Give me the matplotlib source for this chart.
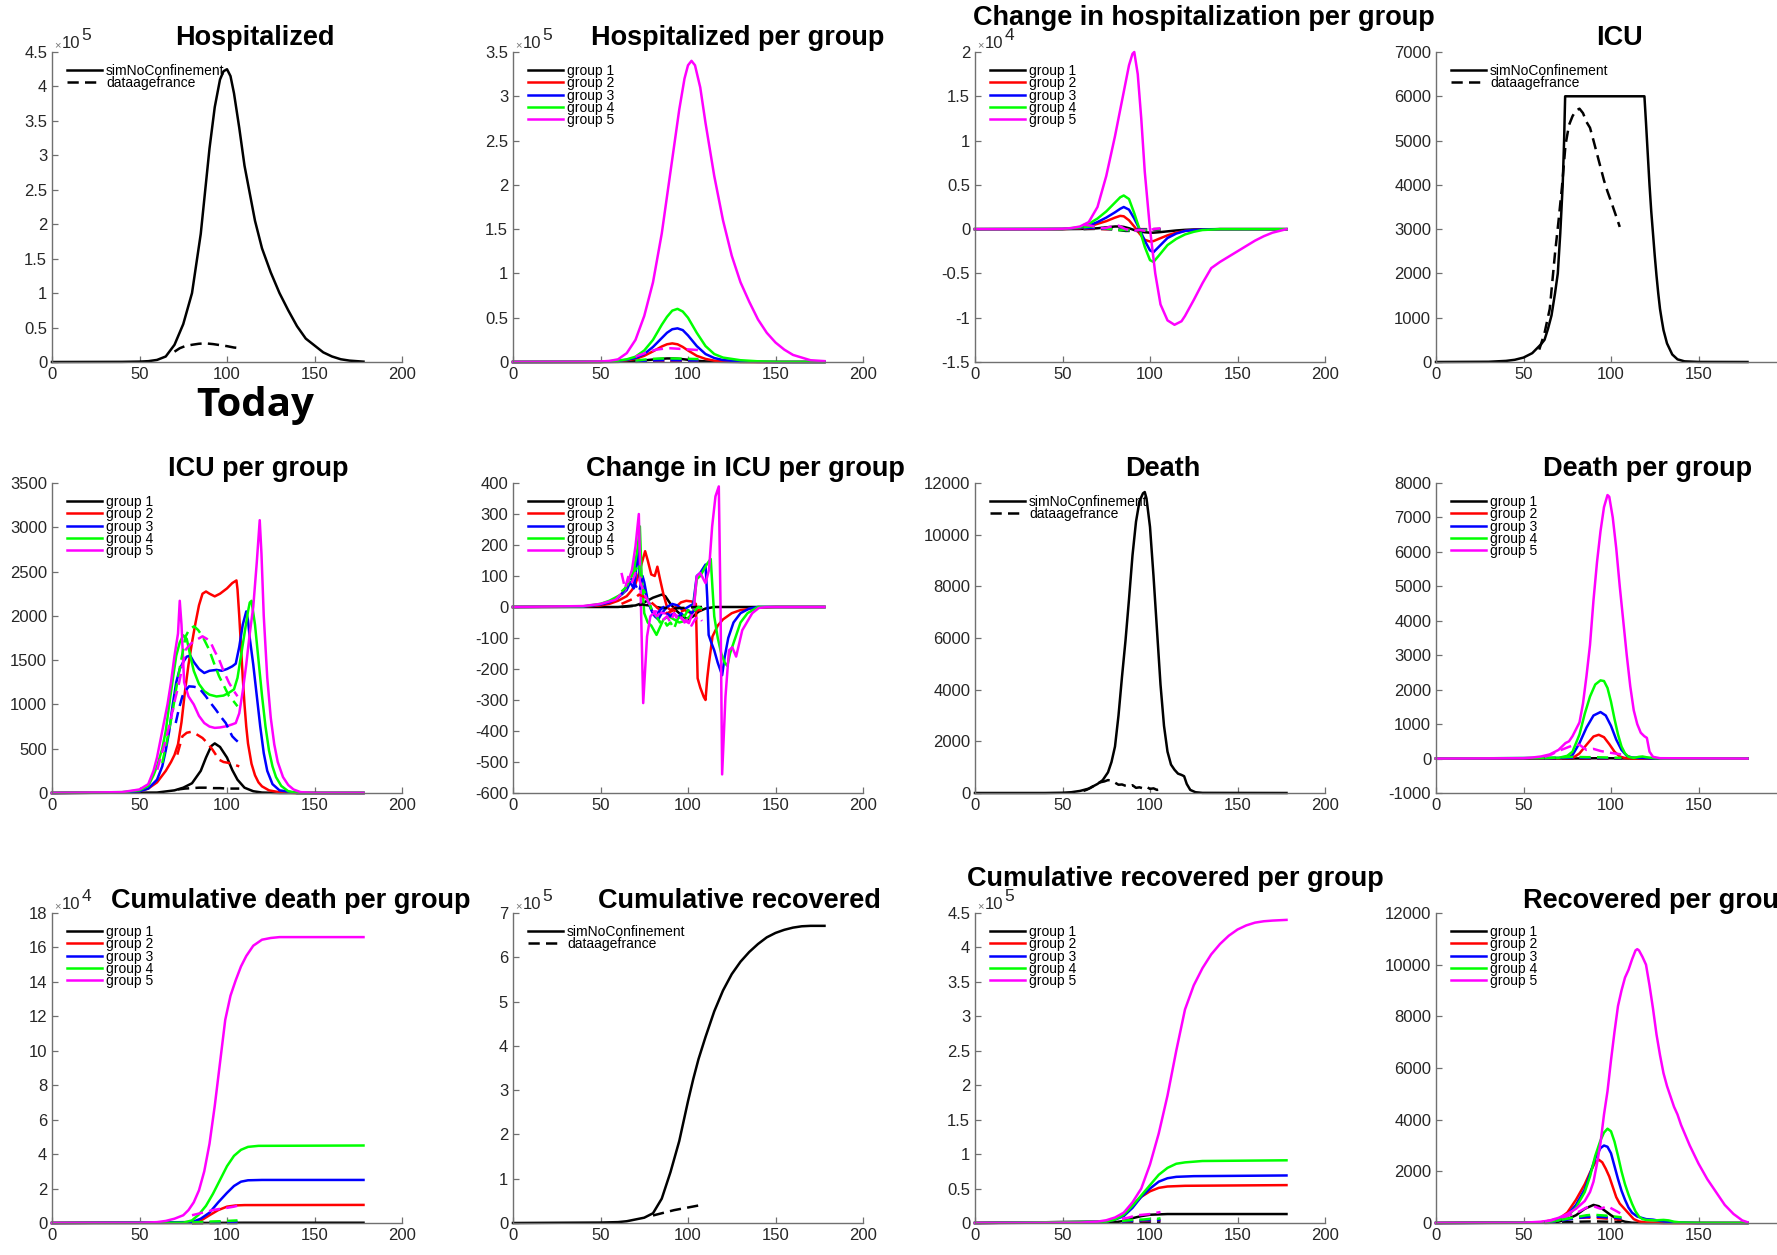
import matplotlib
matplotlib.use('Agg')
import matplotlib.pyplot as plt
from matplotlib.ticker import FixedLocator, FuncFormatter

plt.rcParams['font.family'] = ['Liberation Sans', 'DejaVu Sans']

# ---------------- data ----------------
# 1. Hospitalized (x1e5)
hosp_sim_day = [0, 40, 50, 55, 60, 65, 70, 75, 80, 85, 90, 93, 96, 98, 100, 102, 104, 107, 110, 113, 116, 120, 125, 130, 135, 140, 145, 150, 155, 160, 165, 170, 178]
hosp_sim = [0, 0.002, 0.006, 0.012, 0.03, 0.08, 0.25, 0.55, 1.0, 1.86, 3.1, 3.7, 4.1, 4.22, 4.25, 4.15, 3.9, 3.4, 2.85, 2.45, 2.05, 1.65, 1.3, 1.0, 0.75, 0.52, 0.34, 0.24, 0.14, 0.08, 0.04, 0.02, 0.005]
hosp_data_day = [70, 73, 76, 80, 84, 88, 92, 96, 100, 104, 108]
hosp_data = [0.15, 0.2, 0.23, 0.25, 0.265, 0.27, 0.26, 0.245, 0.23, 0.21, 0.2]

# 2. Hospitalized per group (x1e5)
hpg5_day = [0, 40, 50, 55, 60, 65, 70, 75, 80, 85, 90, 95, 98, 100, 102, 104, 107, 110, 115, 120, 125, 130, 135, 140, 145, 150, 155, 160, 165, 170, 178]
hpg5 = [0, 0.002, 0.006, 0.012, 0.03, 0.1, 0.25, 0.52, 0.9, 1.45, 2.15, 2.85, 3.2, 3.35, 3.4, 3.35, 3.1, 2.7, 2.1, 1.6, 1.2, 0.9, 0.68, 0.48, 0.33, 0.22, 0.14, 0.08, 0.05, 0.02, 0.01]
hpg_day = [0, 50, 60, 65, 70, 75, 80, 85, 88, 91, 94, 97, 100, 105, 110, 115, 120, 130, 140, 150, 178]
hpg1 = [0, 0, 0.002, 0.005, 0.01, 0.018, 0.028, 0.036, 0.04, 0.04, 0.037, 0.032, 0.025, 0.014, 0.007, 0.003, 0.002, 0, 0, 0, 0]
hpg2 = [0, 0.001, 0.01, 0.02, 0.035, 0.07, 0.12, 0.175, 0.2, 0.21, 0.2, 0.17, 0.13, 0.07, 0.035, 0.015, 0.008, 0.002, 0, 0, 0]
hpg3 = [0, 0.002, 0.012, 0.025, 0.045, 0.09, 0.17, 0.27, 0.33, 0.37, 0.38, 0.36, 0.3, 0.18, 0.09, 0.045, 0.022, 0.006, 0.002, 0, 0]
hpg4 = [0, 0.003, 0.015, 0.03, 0.06, 0.13, 0.25, 0.42, 0.51, 0.58, 0.6, 0.57, 0.5, 0.33, 0.18, 0.09, 0.05, 0.02, 0.008, 0.002, 0]
hpgd_day = [70, 74, 78, 82, 86, 90, 94, 98, 102, 106]
hpgd1 = [0.002, 0.003, 0.004, 0.005, 0.005, 0.005, 0.005, 0.004, 0.004, 0.004]
hpgd2 = [0.005, 0.008, 0.01, 0.012, 0.013, 0.013, 0.012, 0.012, 0.011, 0.01]
hpgd3 = [0.008, 0.012, 0.016, 0.018, 0.02, 0.02, 0.019, 0.018, 0.017, 0.016]
hpgd4 = [0.015, 0.025, 0.033, 0.038, 0.04, 0.04, 0.039, 0.037, 0.035, 0.033]
hpgd5 = [0.06, 0.09, 0.12, 0.14, 0.15, 0.155, 0.15, 0.145, 0.14, 0.135]

# 3. Change in hospitalization per group (x1e4)
ch5_day = [0, 40, 50, 55, 60, 65, 70, 75, 80, 85, 88, 90, 91, 93, 95, 97, 100, 103, 106, 110, 114, 118, 120, 125, 130, 135, 140, 145, 150, 155, 160, 165, 170, 178]
ch5 = [0, 0, 0.005, 0.012, 0.03, 0.08, 0.25, 0.6, 1.05, 1.55, 1.85, 1.98, 2.0, 1.75, 1.25, 0.65, 0.0, -0.5, -0.85, -1.03, -1.08, -1.04, -0.98, -0.8, -0.61, -0.44, -0.37, -0.31, -0.25, -0.19, -0.13, -0.08, -0.04, 0]
ch_day = [0, 50, 60, 65, 70, 75, 80, 83, 85, 88, 91, 94, 97, 100, 102, 105, 110, 115, 120, 125, 130, 140, 178]
ch1 = [0, 0, 0.002, 0.005, 0.01, 0.02, 0.03, 0.03, 0.025, 0.01, -0.01, -0.025, -0.035, -0.04, -0.04, -0.035, -0.025, -0.015, -0.008, -0.004, -0.002, 0, 0]
ch2 = [0, 0.001, 0.01, 0.03, 0.06, 0.09, 0.13, 0.15, 0.145, 0.1, 0.03, -0.05, -0.12, -0.14, -0.135, -0.11, -0.07, -0.04, -0.02, -0.01, -0.005, 0, 0]
ch3 = [0, 0.002, 0.015, 0.04, 0.08, 0.13, 0.19, 0.23, 0.25, 0.22, 0.12, 0.0, -0.13, -0.24, -0.26, -0.2, -0.1, -0.05, -0.02, -0.01, -0.004, 0, 0]
ch4 = [0, 0.003, 0.02, 0.06, 0.12, 0.2, 0.3, 0.36, 0.38, 0.34, 0.18, 0.0, -0.2, -0.35, -0.37, -0.3, -0.18, -0.11, -0.06, -0.03, -0.01, 0, 0]
chd_day = [62, 66, 70, 74, 78, 82, 86, 90, 94, 98, 102, 106]
chd1 = [0, 0.002, 0.003, 0.002, 0.0, -0.01, -0.02, -0.02, -0.02, -0.015, -0.01, -0.005]
chd2 = [0.005, 0.01, 0.005, 0.0, 0.0, -0.005, -0.005, -0.005, 0, 0, 0, 0]
chd3 = [0.01, 0.015, 0.01, 0.005, 0.0, -0.005, -0.01, -0.01, -0.005, -0.005, 0, 0]
chd4 = [0.02, 0.03, 0.02, 0.01, 0.0, -0.01, -0.01, -0.015, -0.01, -0.01, 0, 0]
chd5 = [0.05, 0.04, 0.02, 0.01, 0.03, 0.04, 0.0, -0.02, -0.01, -0.02, 0.0, 0.01]

# 4. ICU
icu_sim_day = [0, 30, 40, 45, 50, 55, 58, 60, 62, 64, 66, 68, 69.6, 71, 72.4, 73.2, 73.8, 119.1, 120, 121, 122, 123, 124, 125, 126, 127, 128, 129, 130, 132, 135, 138, 142, 150, 178]
icu_sim = [0, 5, 25, 50, 100, 200, 320, 400, 500, 750, 1050, 1550, 2000, 2900, 4000, 5000, 6000, 6000, 5400, 4700, 4000, 3400, 2900, 2400, 1950, 1550, 1200, 950, 720, 420, 170, 60, 15, 2, 0]
icu_data_day = [59, 62, 65, 68, 70, 72, 74, 76, 78, 80, 82, 84, 86, 88, 90, 92, 94, 96, 98, 100, 102, 104, 105]
icu_data = [280, 650, 1200, 2450, 3180, 3960, 4900, 5350, 5550, 5680, 5720, 5620, 5420, 5290, 5000, 4700, 4400, 4100, 3850, 3630, 3400, 3170, 3050]

# 5. ICU per group
icu1_day = [0, 60, 70, 75, 80, 85, 88, 91, 93, 96, 100, 103, 106, 110, 115, 120, 130, 178]
icu1 = [0, 5, 30, 60, 110, 250, 400, 530, 560, 520, 400, 260, 150, 60, 20, 5, 0, 0]
icu2_day = [0, 40, 50, 55, 60, 65, 68, 70, 72, 74, 76, 78, 80, 82, 84, 86, 88, 90, 93, 96, 100, 103, 105.4, 106, 107, 108, 109, 110, 111, 112, 114, 116, 118, 120, 124, 130, 140, 178]
icu2 = [0, 5, 20, 50, 120, 250, 350, 430, 550, 800, 1150, 1450, 1700, 1920, 2120, 2250, 2275, 2250, 2220, 2250, 2310, 2370, 2400, 2300, 2000, 1650, 1300, 1000, 750, 560, 330, 200, 120, 75, 30, 8, 0, 0]
icu3_day = [0, 40, 50, 55, 60, 63, 65, 67, 69, 71, 73, 75, 77, 79, 81, 84, 87, 90, 94, 97, 100, 103, 105, 107, 109, 111, 112, 113, 115, 117, 119, 121, 123, 126, 130, 140, 178]
icu3 = [0, 5, 20, 50, 150, 300, 480, 700, 1000, 1250, 1400, 1480, 1540, 1550, 1480, 1400, 1355, 1380, 1390, 1380, 1400, 1430, 1460, 1650, 1900, 2050, 1950, 1750, 1450, 1100, 750, 450, 250, 100, 30, 0, 0]
icu4_day = [0, 40, 50, 55, 58, 60, 63, 65, 67, 69, 71, 73, 75, 77, 79, 81, 84, 87, 90, 94, 98, 101, 104, 106, 108, 110, 112, 113, 114, 116, 118, 120, 122, 124, 126, 128, 131, 135, 140, 178]
icu4 = [0, 10, 30, 80, 200, 300, 500, 700, 1000, 1280, 1550, 1700, 1780, 1740, 1550, 1380, 1230, 1150, 1110, 1090, 1100, 1130, 1170, 1300, 1550, 1800, 2050, 2150, 2170, 1900, 1500, 1100, 750, 480, 300, 180, 80, 20, 0, 0]
icu5_day = [0, 40, 50, 55, 58, 60, 62, 64, 66, 68, 70, 72, 73, 74, 75.5, 78, 81, 84, 87, 90, 93, 96, 100, 103, 105, 107, 109, 111, 113, 115, 117, 118.7, 119.7, 121, 123, 125, 127, 129, 132, 135, 138, 142, 150, 178]
icu5 = [0, 10, 40, 100, 250, 400, 600, 800, 1000, 1250, 1550, 1800, 2170, 1900, 1250, 1090, 1000, 870, 790, 750, 735, 740, 755, 775, 790, 900, 1150, 1450, 1800, 2100, 2600, 3080, 2700, 2000, 1300, 850, 550, 350, 180, 90, 40, 10, 0, 0]
icud1_day = [72, 76, 80, 84, 88, 92, 96, 100, 104, 107]
icud1 = [40, 50, 55, 60, 60, 55, 55, 50, 50, 50]
icud2_day = [71.6, 74.5, 77, 79.3, 82, 86, 89, 91.7, 95.5, 98, 101.2, 104, 107]
icud2 = [433, 640, 680, 690, 670, 621, 560, 490, 376, 350, 339, 320, 301]
icud3_day = [70.7, 72.5, 74.5, 76.5, 78.3, 81, 84, 87.9, 90.5, 93.6, 96.5, 99.3, 101, 103, 105, 107]
icud3 = [790, 950, 1092, 1160, 1204, 1200, 1186, 1092, 1020, 941, 860, 790, 720, 640, 600, 565]
icud4_day = [63, 66, 68.8, 71, 73.5, 76.4, 78.5, 81.2, 83.5, 86, 89.8, 92.5, 95.5, 98.5, 101.2, 104, 106]
icud4 = [339, 620, 903, 1180, 1468, 1769, 1850, 1882, 1840, 1769, 1618, 1470, 1317, 1200, 1092, 1030, 979]
icud5_day = [60.2, 62, 64, 66, 67.8, 70, 72.6, 74.5, 76.4, 79, 81.2, 83.5, 86, 88.5, 90.8, 93, 95.5, 98, 101.2, 104, 106]
icud5 = [263, 400, 527, 680, 828, 1030, 1242, 1430, 1618, 1680, 1713, 1740, 1769, 1740, 1694, 1600, 1506, 1380, 1242, 1150, 1092]

# 6. Change in ICU per group
cicu1_day = [0, 60, 70, 75, 80, 85, 87, 90, 93, 97, 100, 103, 106, 110, 115, 178]
cicu1 = [0, 0, 5, 15, 30, 40, 35, 10, -10, -30, -40, -30, -15, -5, 0, 0]
cicu2_day = [0, 40, 50, 55, 60, 65, 68, 70, 72, 74, 75.5, 77, 79, 81, 82.5, 84, 86, 88, 90, 93, 96, 99, 102, 104.5, 105.5, 107, 109, 110, 111, 112, 114, 117, 120, 125, 130, 140, 150, 178]
cicu2 = [0, 1, 5, 10, 20, 35, 55, 75, 110, 150, 180, 150, 105, 100, 130, 90, 40, 0, -10, 0, 15, 20, 18, 10, -230, -260, -290, -300, -230, -180, -95, -60, -40, -20, -10, -2, 0, 0]
cicu3_day = [0, 40, 50, 55, 60, 63, 65, 67, 69, 70, 71.5, 72.5, 74, 75, 77, 79, 81, 83, 85, 88, 91, 94, 97, 100, 103, 105, 107, 110, 111, 111.8, 113, 115, 117, 119.5, 121, 123, 126, 130, 135, 140, 178]
cicu3 = [0, 1, 8, 15, 30, 45, 55, 80, 60, 100, 190, 90, 100, 80, 20, -10, -30, -40, -20, 0, 10, 5, -10, 0, 10, 100, 110, 137, 30, -90, -110, -140, -180, -220, -160, -100, -50, -20, -5, 0, 0]
cicu4_day = [0, 40, 50, 55, 60, 63, 66, 69, 71, 72.5, 73.5, 75, 77, 79, 82, 84, 86, 89, 92, 95, 98, 101, 103, 105, 107, 109, 111, 113, 114, 115, 117, 119, 121, 122.5, 124, 127, 130, 134, 140, 178]
cicu4 = [0, 2, 10, 20, 35, 45, 80, 120, 180, 260, 100, -20, -50, -60, -90, -65, -40, -30, -40, -50, -45, -30, -10, 90, 100, 120, 140, 155, 60, -30, -100, -150, -180, -190, -150, -100, -50, -20, 0, 0]
cicu5_day = [0, 40, 50, 58.5, 64.3, 68, 70, 71.9, 74.4, 76.6, 78.5, 81.4, 86, 92.8, 97, 100.5, 103.3, 105, 107, 110, 112, 113.8, 115.7, 117.6, 118.6, 119.5, 121.4, 123.4, 125.3, 127.5, 131, 136.7, 140.5, 145, 178]
cicu5 = [0, 3, 10, 23, 56, 120, 196, 300, -310, -95, -30, -14, -20, -25, -40, -52, -9, 99, 110, 77, 120, 260, 357, 389, 0, -540, -290, -140, -130, -160, -75, -20, -3, 0, 0]
cicud_day = [62, 64, 66, 68, 70, 72, 74, 76, 78, 80, 82, 84, 86, 88, 90, 92, 94, 96, 98, 100, 102, 104, 106, 108]
cicud1 = [0, 1, 2, 3, 5, 6, 8, 6, 5, 3, 0, -2, -3, -3, -5, -5, -4, -3, -3, -2, -1, 0, 0, 0]
cicud2 = [10, 15, 20, 25, 30, 40, 35, 30, 20, 10, 0, -10, -15, -20, -15, -10, -20, -15, -10, -15, -20, -15, -10, -10]
cicud3 = [40, 60, 70, 90, 70, 50, 90, 40, 10, -20, -30, -10, 0, -20, -30, -20, -40, -20, -30, -10, -20, -10, 0, -5]
cicud4 = [50, 60, 80, 100, 120, 140, 60, 40, 10, -20, -30, -50, -40, -60, -50, -70, -40, -20, -30, -10, -20, -10, 0, -5]
cicud5 = [110, 60, 100, 80, 110, 90, 60, 30, 10, -10, -30, -20, -40, -30, -50, -20, -40, -30, -50, -40, -60, -40, -30, -45]

# 7. Death
death_sim_day = [0, 40, 50, 55, 60, 65, 70, 73, 76, 78, 80, 82, 84, 86, 88, 90, 92, 94, 96, 97, 98, 100, 102, 104, 106, 108, 110, 112, 114, 116, 118, 119.5, 121, 123, 126, 130, 178]
death_sim = [0, 0, 10, 30, 80, 170, 350, 500, 800, 1200, 1800, 3000, 4500, 5900, 7500, 9200, 10500, 11300, 11600, 11650, 11400, 10300, 8400, 6300, 4200, 2600, 1600, 1100, 900, 750, 700, 650, 350, 120, 30, 5, 0]
death_data_day = [62, 64, 66, 68, 70, 72, 74, 76, 78, 80, 82, 84, 86, 88, 90, 92, 94, 96, 98, 100, 102, 104, 106, 108]
death_data = [80, 130, 200, 280, 380, 420, 450, 500, 480, 400, 320, 330, 280, 250, 300, 200, 220, 180, 240, 160, 180, 120, 140, 100]

# 8. Death per group
dpg1_day = [0, 80, 90, 95, 100, 110, 178]
dpg1 = [0, 2, 8, 10, 8, 2, 0]
dpg2_day = [0, 78, 82, 86, 90, 93, 96, 99, 102, 105, 108, 112, 178]
dpg2 = [0, 10, 150, 400, 640, 690, 620, 420, 200, 60, 15, 0, 0]
dpg3_day = [0, 75, 78, 82, 86, 90, 94, 97, 100, 103, 106, 109, 112, 116, 118, 122, 130, 178]
dpg3 = [0, 20, 100, 450, 900, 1250, 1350, 1250, 950, 550, 250, 80, 30, 20, 20, 5, 0, 0]
dpg4_day = [0, 70, 75, 78, 82, 85, 88, 91, 94, 96, 98, 100, 102, 104, 106, 108, 110, 113, 116, 118, 120, 125, 130, 178]
dpg4 = [0, 20, 80, 200, 700, 1300, 1800, 2150, 2270, 2250, 2050, 1650, 1150, 700, 350, 150, 50, 20, 50, 60, 40, 10, 0, 0]
dpg5_day = [0, 50, 55, 60, 65, 70, 74, 76, 78, 80, 82, 84, 86, 88, 90, 92, 94, 96, 98, 99, 101, 103, 105, 107, 109, 111, 113, 115, 117, 119, 120.5, 122, 124, 128, 178]
dpg5 = [0, 10, 30, 60, 120, 250, 450, 500, 650, 850, 1050, 1600, 2400, 3300, 4600, 5700, 6600, 7300, 7650, 7600, 7000, 6100, 5000, 4000, 3000, 2100, 1400, 1000, 750, 650, 600, 200, 50, 10, 0]
dpgd_day = [62, 66, 70, 74, 78, 82, 86, 90, 94, 98, 102, 106]
dpgd1 = [0, 0, 0, 1, 1, 1, 1, 1, 1, 1, 0, 0]
dpgd2 = [2, 4, 6, 8, 8, 8, 7, 6, 5, 5, 4, 3]
dpgd3 = [5, 10, 15, 20, 20, 20, 18, 15, 15, 12, 10, 8]
dpgd4 = [10, 20, 30, 40, 50, 45, 40, 40, 35, 30, 25, 20]
dpgd5 = [50, 120, 220, 300, 380, 400, 250, 280, 220, 180, 150, 120]

# 9. Cumulative death per group (x1e4)
cd1_day = [0, 85, 100, 110, 178]
cd1 = [0, 0.002, 0.01, 0.015, 0.015]
cd2_day = [0, 82, 86, 90, 95, 100, 105, 110, 178]
cd2 = [0, 0.05, 0.2, 0.45, 0.75, 0.95, 1.02, 1.04, 1.05]
cd3_day = [0, 80, 85, 90, 95, 100, 104, 108, 112, 120, 178]
cd3 = [0, 0.05, 0.25, 0.6, 1.2, 1.75, 2.15, 2.4, 2.48, 2.5, 2.5]
cd4_day = [0, 75, 80, 84, 88, 92, 96, 100, 104, 108, 112, 118, 178]
cd4 = [0, 0.02, 0.15, 0.5, 1.0, 1.7, 2.5, 3.3, 3.9, 4.25, 4.42, 4.48, 4.5]
cd5_day = [0, 50, 60, 65, 70, 75, 78, 81, 84, 87, 90, 93, 96, 99, 102, 105, 108, 111, 115, 120, 125, 130, 178]
cd5 = [0, 0.01, 0.05, 0.12, 0.25, 0.45, 0.75, 1.2, 1.9, 3.0, 4.6, 6.8, 9.3, 11.8, 13.2, 14.1, 14.9, 15.5, 16.1, 16.45, 16.55, 16.6, 16.6]
cdd_day = [80, 84, 88, 92, 96, 100, 104, 106]
cdd1 = [0, 0, 0, 0.001, 0.001, 0.001, 0.001, 0.001]
cdd2 = [0.005, 0.01, 0.012, 0.015, 0.018, 0.02, 0.022, 0.025]
cdd3 = [0.01, 0.02, 0.03, 0.04, 0.05, 0.06, 0.07, 0.075]
cdd4 = [0.03, 0.05, 0.07, 0.09, 0.1, 0.12, 0.14, 0.15]
cdd5 = [0.45, 0.55, 0.65, 0.75, 0.82, 0.88, 0.95, 1.0]

# 10. Cumulative recovered (x1e5)
crec_day = [0, 50, 60, 65, 70, 75, 80, 85, 90, 95, 100, 103, 106, 110, 115, 120, 125, 130, 135, 140, 145, 150, 155, 160, 165, 170, 178]
crec = [0, 0.01, 0.02, 0.04, 0.08, 0.12, 0.22, 0.55, 1.15, 1.85, 2.75, 3.25, 3.7, 4.2, 4.78, 5.25, 5.62, 5.9, 6.12, 6.3, 6.45, 6.55, 6.62, 6.67, 6.7, 6.71, 6.71]
crec_data_day = [80, 84, 88, 92, 96, 100, 104, 108]
crec_data = [0.17, 0.21, 0.25, 0.29, 0.32, 0.35, 0.38, 0.41]

# 11. Cumulative recovered per group (x1e5)
crp1_day = [0, 80, 85, 90, 95, 100, 110, 178]
crp1 = [0, 0.01, 0.03, 0.07, 0.1, 0.12, 0.13, 0.13]
crp2_day = [0, 75, 80, 85, 90, 95, 100, 105, 110, 120, 178]
crp2 = [0, 0.02, 0.05, 0.12, 0.26, 0.38, 0.46, 0.51, 0.53, 0.54, 0.55]
crp3_day = [0, 75, 80, 85, 90, 95, 100, 105, 110, 115, 125, 178]
crp3 = [0, 0.02, 0.05, 0.1, 0.22, 0.38, 0.5, 0.6, 0.65, 0.67, 0.68, 0.69]
crp4_day = [0, 75, 80, 85, 90, 95, 100, 105, 110, 115, 120, 130, 178]
crp4 = [0, 0.02, 0.05, 0.12, 0.25, 0.4, 0.55, 0.7, 0.8, 0.86, 0.88, 0.9, 0.91]
crp5_day = [0, 60, 70, 75, 80, 85, 90, 95, 100, 105, 110, 115, 120, 125, 130, 135, 140, 145, 150, 155, 160, 165, 170, 178]
crp5 = [0, 0.005, 0.02, 0.04, 0.08, 0.15, 0.3, 0.5, 0.85, 1.3, 1.85, 2.5, 3.1, 3.45, 3.7, 3.9, 4.05, 4.17, 4.26, 4.32, 4.36, 4.38, 4.39, 4.4]
crpd_day = [84, 88, 92, 96, 100, 104, 106]
crpd1 = [0.003, 0.005, 0.006, 0.008, 0.009, 0.01, 0.01]
crpd2 = [0.02, 0.025, 0.03, 0.03, 0.035, 0.04, 0.04]
crpd3 = [0.02, 0.03, 0.03, 0.04, 0.04, 0.04, 0.045]
crpd4 = [0.03, 0.04, 0.05, 0.05, 0.06, 0.06, 0.07]
crpd5 = [0.06, 0.08, 0.11, 0.12, 0.13, 0.15, 0.16]

# 12. Recovered per group
rp1_day = [0, 60, 70, 75, 80, 85, 90, 93, 96, 100, 104, 108, 112, 120, 178]
rp1 = [0, 10, 50, 150, 300, 550, 700, 650, 500, 300, 130, 50, 10, 0, 0]
rp2_day = [0, 60, 70, 75, 80, 85, 88, 91, 93, 95, 97, 99, 101, 103, 105, 107, 109, 111, 113, 116, 120, 130, 178]
rp2 = [0, 30, 150, 400, 900, 1500, 1950, 2350, 2450, 2350, 2100, 1800, 1400, 1000, 750, 600, 450, 300, 150, 60, 20, 0, 0]
rp3_day = [0, 60, 70, 75, 80, 85, 88, 91, 94, 96, 98, 100, 102, 104, 106, 108, 110, 112, 115, 120, 124, 128, 135, 150, 178]
rp3 = [0, 20, 100, 300, 700, 1300, 1900, 2500, 2900, 3000, 2950, 2700, 2200, 1700, 1250, 900, 600, 400, 250, 150, 130, 80, 20, 0, 0]
rp4_day = [0, 60, 70, 75, 80, 85, 88, 91, 94, 96, 98, 100, 102, 104, 106, 108, 110, 112, 114, 116, 118, 120, 125, 130, 133, 136, 140, 150, 178]
rp4 = [0, 20, 100, 250, 600, 1200, 1800, 2600, 3200, 3500, 3650, 3550, 3150, 2600, 2000, 1500, 1100, 750, 450, 250, 150, 120, 100, 120, 100, 50, 20, 5, 0]
rp5_day = [0, 50, 60, 65, 70, 75, 80, 85, 88, 90, 92, 94, 96, 98, 100, 102, 104, 106, 108, 110, 112, 114, 115, 116, 118, 120, 122, 124, 126, 128, 130, 132, 134, 136, 138, 140, 145, 150, 155, 160, 165, 170, 175, 178]
rp5 = [0, 10, 50, 100, 200, 350, 550, 850, 1200, 1600, 2300, 3100, 4200, 5100, 6300, 7400, 8400, 9000, 9500, 9800, 10200, 10550, 10600, 10550, 10300, 10000, 9200, 8300, 7300, 6500, 5800, 5300, 4900, 4500, 4200, 3800, 3000, 2300, 1700, 1200, 700, 350, 100, 30]
rpd_day = [62, 66, 70, 74, 78, 82, 86, 90, 94, 98, 102, 106]
rpd1 = [5, 10, 20, 30, 40, 50, 55, 60, 55, 50, 45, 40]
rpd2 = [20, 50, 90, 130, 170, 200, 210, 200, 190, 170, 150, 130]
rpd3 = [20, 40, 80, 120, 160, 200, 230, 250, 240, 220, 200, 180]
rpd4 = [30, 60, 100, 150, 200, 250, 300, 320, 300, 280, 250, 220]
rpd5 = [50, 100, 200, 250, 350, 450, 600, 650, 550, 650, 500, 350]

GROUP_LABELS = ['group 1', 'group 2', 'group 3', 'group 4', 'group 5']
SIM_LABELS = ['simNoConfinement', 'dataagefrance']
X_TICKS = [0, 50, 100, 150, 200]

# ---------------- styling ----------------
COLORS = ['#000000', '#ff0000', '#0000ff', '#00ff00', '#ff00ff']
LW = 1.8
DASH = (0, (4.5, 2.5))
SPINE = '#707070'
TXT = '#262626'

W, H = 1777, 1255
fig = plt.figure(figsize=(W / 100, H / 100), dpi=100)
fig.patch.set_facecolor('white')

COLS = [52, 513, 975, 1436]
ROWS = [52, 483, 913]
AW, AH = 350, 310


def make_ax(r, c):
    left = COLS[c]
    top = ROWS[r]
    return fig.add_axes([left / W, 1 - (top + AH) / H, AW / W, AH / H])


def setup(ax, ylo, yhi, ystep, exp=None, edge=False):
    ax.set_xlim(0, 200)
    ax.set_ylim(ylo, yhi)
    ax.xaxis.set_major_locator(FixedLocator(X_TICKS))
    n = int(round((yhi - ylo) / ystep))
    ax.yaxis.set_major_locator(FixedLocator([round(ylo + i * ystep, 6) for i in range(n + 1)]))
    ax.yaxis.set_major_formatter(FuncFormatter(lambda v, p: f'{round(v, 6):g}'))
    if edge:
        # rightmost column runs past the figure edge: the 200 label is not visible
        ax.xaxis.set_major_formatter(FuncFormatter(lambda v, p: '' if v >= 200 else f'{v:g}'))
    else:
        ax.xaxis.set_major_formatter(FuncFormatter(lambda v, p: f'{v:g}'))
    for s in ['top', 'right']:
        ax.spines[s].set_visible(False)
    for s in ['left', 'bottom']:
        ax.spines[s].set_color(SPINE)
        ax.spines[s].set_linewidth(1.0)
    ax.tick_params(direction='in', length=4, width=0.9, color=SPINE,
                   labelsize=12, labelcolor=TXT, pad=3.5)
    ax.set_facecolor('none')
    if exp is not None:
        ax.annotate('×', xy=(0, 1), xycoords='axes fraction', xytext=(1.5, 3.0),
                    textcoords='offset points', fontsize=8, color='#777777',
                    ha='left', va='baseline', annotation_clip=False)
        ax.annotate('10', xy=(0, 1), xycoords='axes fraction', xytext=(7.0, 2.8),
                    textcoords='offset points', fontsize=12, color=TXT,
                    ha='left', va='baseline', annotation_clip=False)
        ax.annotate(str(exp), xy=(0, 1), xycoords='axes fraction', xytext=(21.3, 8.3),
                    textcoords='offset points', fontsize=12.5, color=TXT,
                    ha='left', va='baseline', annotation_clip=False)


def add_legend(ax, handles, labels):
    ax.legend(handles, labels, loc='upper left', bbox_to_anchor=(15 / AW, 1 - 12 / AH),
              frameon=False, fontsize=10, handlelength=2.5, handletextpad=0.3,
              labelspacing=-0.12, borderpad=0, borderaxespad=0)


def sim_plot(ax, sx, sy, dx, dy):
    h1, = ax.plot(sx, sy, color='k', lw=LW, clip_on=False)
    h2, = ax.plot(dx, dy, color='k', lw=LW, ls=DASH, clip_on=False)
    add_legend(ax, [h1, h2], SIM_LABELS)


def group_plot(ax, solids, dashes):
    hs = []
    for i, (x, y) in enumerate(solids):
        h, = ax.plot(x, y, color=COLORS[i], lw=LW, clip_on=False)
        hs.append(h)
    for i, (x, y) in enumerate(dashes):
        ax.plot(x, y, color=COLORS[i], lw=LW, ls=DASH, clip_on=False)
    add_legend(ax, hs, GROUP_LABELS)


def title_at(text, cx, baseline, ha='center'):
    fig.text(cx / W, 1 - baseline / H, text, fontsize=19.5, fontweight='bold',
             ha=ha, va='baseline', color='black')


# Row 1
ax = make_ax(0, 0)
setup(ax, 0, 4.5, 0.5, exp=5)
sim_plot(ax, hosp_sim_day, hosp_sim, hosp_data_day, hosp_data)
title_at('Hospitalized', 255, 45)

ax = make_ax(0, 1)
setup(ax, 0, 3.5, 0.5, exp=5)
group_plot(ax, [(hpg_day, hpg1), (hpg_day, hpg2), (hpg_day, hpg3), (hpg_day, hpg4), (hpg5_day, hpg5)],
           [(hpgd_day, hpgd1), (hpgd_day, hpgd2), (hpgd_day, hpgd3), (hpgd_day, hpgd4), (hpgd_day, hpgd5)])
title_at('Hospitalized per group', 738, 45)

ax = make_ax(0, 2)
setup(ax, -1.5, 2, 0.5, exp=4)
group_plot(ax, [(ch_day, ch1), (ch_day, ch2), (ch_day, ch3), (ch_day, ch4), (ch5_day, ch5)],
           [(chd_day, chd1), (chd_day, chd2), (chd_day, chd3), (chd_day, chd4), (chd_day, chd5)])
title_at('Change in hospitalization per group', 1204, 25)

ax = make_ax(0, 3)
setup(ax, 0, 7000, 1000, edge=True)
sim_plot(ax, icu_sim_day, icu_sim, icu_data_day, icu_data)
title_at('ICU', 1619, 45)

fig.text(255 / W, 1 - 416 / H, 'Today', fontsize=29, fontweight='bold',
         family=['Open Sans', 'DejaVu Sans'], ha='center', va='baseline', color='black')

# Row 2
ax = make_ax(1, 0)
setup(ax, 0, 3500, 500)
group_plot(ax, [(icu1_day, icu1), (icu2_day, icu2), (icu3_day, icu3), (icu4_day, icu4), (icu5_day, icu5)],
           [(icud1_day, icud1), (icud2_day, icud2), (icud3_day, icud3), (icud4_day, icud4), (icud5_day, icud5)])
title_at('ICU per group', 258, 476)

ax = make_ax(1, 1)
setup(ax, -600, 400, 100)
group_plot(ax, [(cicu1_day, cicu1), (cicu2_day, cicu2), (cicu3_day, cicu3), (cicu4_day, cicu4), (cicu5_day, cicu5)],
           [(cicud_day, cicud1), (cicud_day, cicud2), (cicud_day, cicud3), (cicud_day, cicud4), (cicud_day, cicud5)])
title_at('Change in ICU per group', 745, 476)

ax = make_ax(1, 2)
setup(ax, 0, 12000, 2000)
sim_plot(ax, death_sim_day, death_sim, death_data_day, death_data)
title_at('Death', 1163, 476)

ax = make_ax(1, 3)
setup(ax, -1000, 8000, 1000, edge=True)
group_plot(ax, [(dpg1_day, dpg1), (dpg2_day, dpg2), (dpg3_day, dpg3), (dpg4_day, dpg4), (dpg5_day, dpg5)],
           [(dpgd_day, dpgd1), (dpgd_day, dpgd2), (dpgd_day, dpgd3), (dpgd_day, dpgd4), (dpgd_day, dpgd5)])
title_at('Death per group', 1648, 476)

# Row 3
ax = make_ax(2, 0)
setup(ax, 0, 18, 2, exp=4)
group_plot(ax, [(cd1_day, cd1), (cd2_day, cd2), (cd3_day, cd3), (cd4_day, cd4), (cd5_day, cd5)],
           [(cdd_day, cdd1), (cdd_day, cdd2), (cdd_day, cdd3), (cdd_day, cdd4), (cdd_day, cdd5)])
title_at('Cumulative death per group', 291, 908)

ax = make_ax(2, 1)
setup(ax, 0, 7, 1, exp=5)
sim_plot(ax, crec_day, crec, crec_data_day, crec_data)
title_at('Cumulative recovered', 739, 908)

ax = make_ax(2, 2)
setup(ax, 0, 4.5, 0.5, exp=5)
group_plot(ax, [(crp1_day, crp1), (crp2_day, crp2), (crp3_day, crp3), (crp4_day, crp4), (crp5_day, crp5)],
           [(crpd_day, crpd1), (crpd_day, crpd2), (crpd_day, crpd3), (crpd_day, crpd4), (crpd_day, crpd5)])
title_at('Cumulative recovered per group', 1175, 886)

ax = make_ax(2, 3)
setup(ax, 0, 12000, 2000, edge=True)
group_plot(ax, [(rp1_day, rp1), (rp2_day, rp2), (rp3_day, rp3), (rp4_day, rp4), (rp5_day, rp5)],
           [(rpd_day, rpd1), (rpd_day, rpd2), (rpd_day, rpd3), (rpd_day, rpd4), (rpd_day, rpd5)])
title_at('Recovered per group', 1523, 908, ha='left')

fig.savefig('out.png', dpi=100, facecolor='white')
